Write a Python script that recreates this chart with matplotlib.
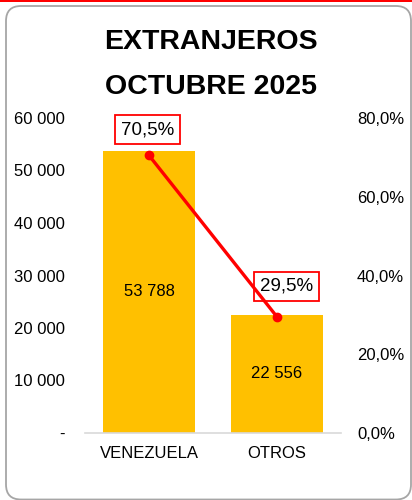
import matplotlib.pyplot as plt
from matplotlib.patches import FancyBboxPatch, Rectangle
from matplotlib.ticker import FuncFormatter

plt.rcParams['font.family'] = ['Liberation Sans', 'DejaVu Sans']

paises = ['VENEZUELA', 'OTROS']
cantidad = [53788, 22556]
porcentaje = [70.5, 29.5]
titulo = ['EXTRANJEROS', 'OCTUBRE 2025']

amarillo = '#FFC000'
rojo = '#FF0000'

fig = plt.figure(figsize=(4.12, 5), dpi=100)

# marco redondeado y linea roja arriba
fig.patches.append(FancyBboxPatch((0.06, 0.005), 4.05, 4.935,
                                  boxstyle='round,pad=0,rounding_size=0.15',
                                  transform=fig.dpi_scale_trans,
                                  fc='none', ec='#a6a6a6', lw=1.3, zorder=-1))
fig.patches.append(Rectangle((0, 4.98), 4.12, 0.02, transform=fig.dpi_scale_trans,
                             fc=rojo, ec='none', zorder=-1))

fig.text(0.512, 0.902, titulo[0], ha='center', va='baseline',
         fontsize=20.5, fontweight='bold')
fig.text(0.512, 0.812, titulo[1], ha='center', va='baseline',
         fontsize=20.5, fontweight='bold')

ax = fig.add_axes([85 / 412, 67 / 500, 256 / 412, 315 / 500])
ax.patch.set_alpha(0)
x = range(len(paises))
barras = ax.bar(x, cantidad, width=0.72, color=amarillo, zorder=2)
for i, v in enumerate(cantidad):
    ax.text(i, v / 2, f'{v:,}'.replace(',', ' '), ha='center', va='center', fontsize=12)

ax.set_xlim(-0.5, 1.5)
ax.set_ylim(0, 60000)
ax.set_yticks(range(0, 60001, 10000))
ax.yaxis.set_major_formatter(FuncFormatter(
    lambda v, p: '-' if v == 0 else f'{int(v):,}'.replace(',', ' ')))
ax.set_xticks(list(x))
ax.set_xticklabels(paises)
ax.tick_params(axis='y', length=0, pad=14.5, labelsize=12)
ax.tick_params(axis='x', length=0, pad=9, labelsize=12)
for s in ['top', 'left', 'right']:
    ax.spines[s].set_visible(False)
ax.spines['bottom'].set_color('#d9d9d9')
ax.spines['bottom'].set_linewidth(1.2)

ax2 = ax.twinx()
ax2.set_ylim(0, 80)
ax2.set_yticks(range(0, 81, 20))
ax2.yaxis.set_major_formatter(FuncFormatter(lambda v, p: f'{v:.1f}%'.replace('.', ',')))
ax2.tick_params(axis='y', length=0, pad=11.5, labelsize=12)
for s in ax2.spines.values():
    s.set_visible(False)

ax2.plot(list(x), porcentaje, color=rojo, lw=2.4, marker='o', ms=6, zorder=5)
desplaz = [(-1, 18.5), (7, 22)]
for i, p in enumerate(porcentaje):
    ax2.annotate(f'{p:.1f}%'.replace('.', ','), (i, p), xytext=desplaz[i],
                 textcoords='offset points', ha='center', va='center', fontsize=13.5,
                 bbox=dict(boxstyle='square,pad=0.33', fc='white', ec=rojo, lw=1.3),
                 zorder=3)

fig.savefig('out.png', dpi=100)
